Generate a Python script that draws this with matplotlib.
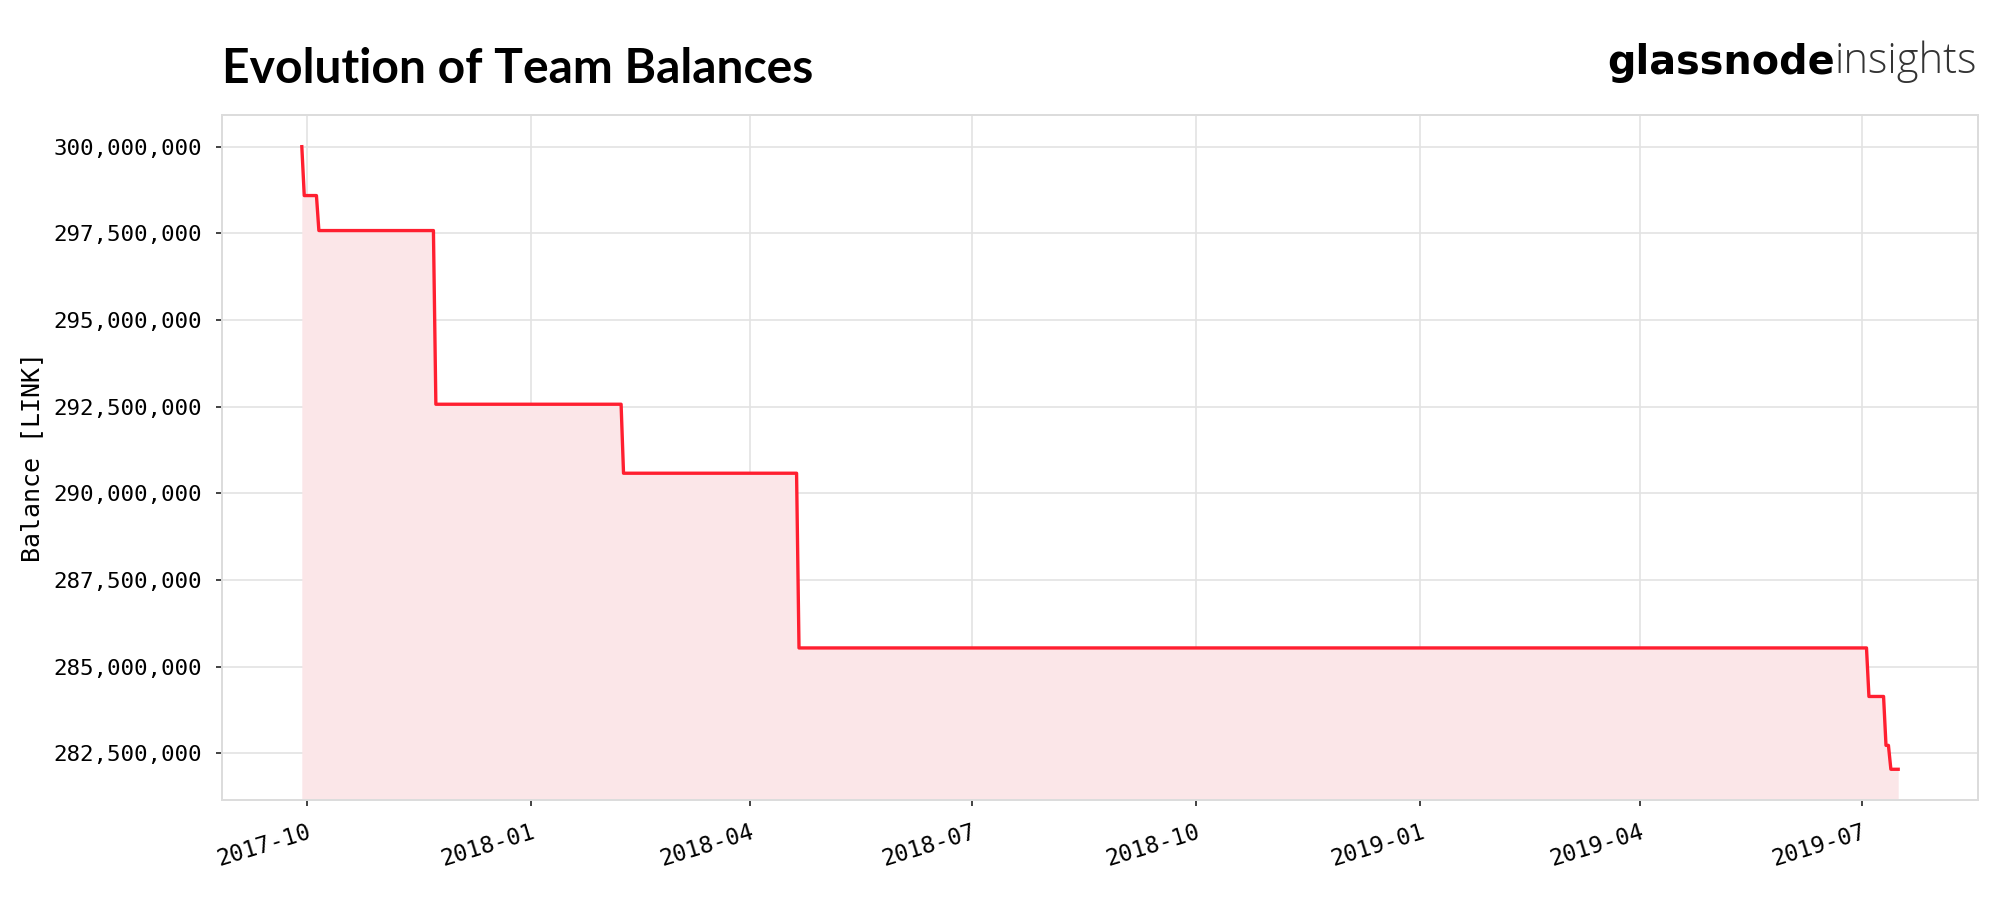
import pandas as pd
import numpy as np
import matplotlib
matplotlib.use('Agg')
import matplotlib.dates as mdates
import matplotlib.ticker as mticker
import matplotlib.pyplot as plt

# step points of the team wallet balance (LINK)
dates = ['2017-09-29', '2017-09-30', '2017-10-05', '2017-10-06',
         '2017-11-22', '2017-11-23', '2018-02-07', '2018-02-08',
         '2018-04-20', '2018-04-21', '2019-07-03', '2019-07-04',
         '2019-07-10', '2019-07-11', '2019-07-12', '2019-07-13',
         '2019-07-16']
balances = [300.00, 298.59, 298.59, 297.58,
            297.58, 292.57, 292.57, 290.58,
            290.58, 285.54, 285.54, 284.14,
            284.14, 282.73, 282.73, 282.04,
            282.04]

title = 'Evolution of Team Balances'
ylabel = 'Balance [LINK]'

df = pd.DataFrame({'ts': pd.to_datetime(dates), 'bal': np.array(balances) * 1e6})

mono = 'DejaVu Sans Mono'
grid_col = '#e3e3e3'
red = '#ff1f30'

fig = plt.figure(figsize=(10, 4.545), dpi=200)
ax = fig.add_axes([0.111, 0.12, 0.878, 0.7535])

ymin, ymax = 281.156e6, 300.914e6
ax.fill_between(df['ts'], df['bal'], ymin, color='#fbe6e8', lw=0, zorder=1)
ax.plot(df['ts'], df['bal'], color=red, lw=1.2, zorder=3)
ax.set_ylim(ymin, ymax)

ax.yaxis.set_major_locator(mticker.MultipleLocator(2.5e6))
ax.yaxis.set_major_formatter(mticker.FuncFormatter(lambda v, p: '{:,.0f}'.format(v)))
ax.xaxis.set_major_locator(mdates.MonthLocator(bymonth=[1, 4, 7, 10]))
ax.xaxis.set_major_formatter(mdates.DateFormatter('%Y-%m'))

ax.grid(True, color=grid_col, lw=0.6, zorder=0)
ax.set_axisbelow(True)
for s in ax.spines.values():
    s.set_color('#dcdcdc')
    s.set_linewidth(0.7)

ax.tick_params(axis='both', length=2.2, width=0.6, color='#222222', pad=5)
for lab in ax.get_yticklabels():
    lab.set_fontfamily(mono)
    lab.set_fontsize(8.1)
for lab in ax.get_xticklabels():
    lab.set_fontfamily(mono)
    lab.set_fontsize(8.3)
    lab.set_rotation(17)
    lab.set_ha('right')
    lab.set_rotation_mode('anchor')

ax.set_ylabel(ylabel, family=mono, fontsize=9, labelpad=3.5)

fig.text(0.111, 0.909, title, family='Lato', weight='bold', fontsize=17.3,
         ha='left', va='baseline', color='#000000')

ins = fig.text(0.9885, 0.92, 'insights', family='Open Sans', weight='light',
               fontsize=15, ha='right', va='baseline', color='#333333')
ax.annotate('glassnode', xy=(0, 0), xycoords=ins, ha='right', va='bottom',
            family='DejaVu Sans', weight='bold', fontsize=14.3, color='#000000',
            annotation_clip=False)

plt.savefig('out.png', dpi=200)
